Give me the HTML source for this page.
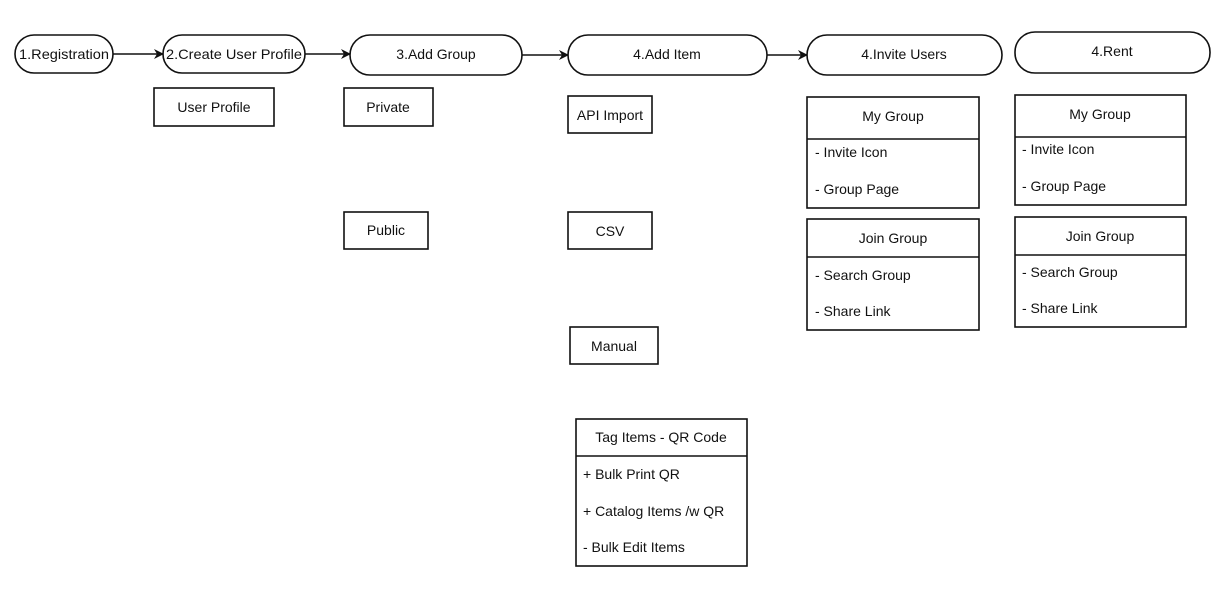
<!DOCTYPE html>
<html><head><meta charset="utf-8"><style>
html,body{margin:0;padding:0;background:#fff;width:1227px;height:597px;overflow:hidden}
svg{display:block}
text{font-family:"Liberation Sans",Arial,sans-serif;font-size:14px;fill:#111}
.r{fill:#fff;stroke:#111;stroke-width:1.6}
.l{stroke:#111;stroke-width:1.6;fill:none}
</style></head><body>
<svg width="1227" height="597" viewBox="0 0 1227 597">
<defs><marker id="a" markerWidth="10" markerHeight="10" refX="9" refY="5" orient="auto" markerUnits="userSpaceOnUse"><path d="M0,0 L10,5 L0,10 L3,5 z" fill="#111"/></marker></defs>
<!-- pills -->
<rect class="r" x="15" y="35" width="98" height="38" rx="19"/>
<text x="64" y="59" text-anchor="middle" textLength="90" lengthAdjust="spacingAndGlyphs">1.Registration</text>
<rect class="r" x="163" y="35" width="142" height="38" rx="19"/>
<text x="234" y="59" text-anchor="middle" textLength="136" lengthAdjust="spacingAndGlyphs">2.Create User Profile</text>
<rect class="r" x="350" y="35" width="172" height="40" rx="20"/>
<text x="436" y="59" text-anchor="middle">3.Add Group</text>
<rect class="r" x="568" y="35" width="199" height="40" rx="20"/>
<text x="667" y="59" text-anchor="middle">4.Add Item</text>
<rect class="r" x="807" y="35" width="195" height="40" rx="20"/>
<text x="904" y="59" text-anchor="middle">4.Invite Users</text>
<rect class="r" x="1015" y="32" width="195" height="41" rx="20"/>
<text x="1112" y="56" text-anchor="middle">4.Rent</text>
<!-- arrows -->
<line class="l" x1="113" y1="54" x2="163" y2="54" marker-end="url(#a)"/>
<line class="l" x1="305" y1="54" x2="350" y2="54" marker-end="url(#a)"/>
<line class="l" x1="522" y1="55" x2="568" y2="55" marker-end="url(#a)"/>
<line class="l" x1="767" y1="55" x2="807" y2="55" marker-end="url(#a)"/>
<!-- simple boxes -->
<rect class="r" x="154" y="88" width="120" height="38"/><text x="214" y="112" text-anchor="middle">User Profile</text>
<rect class="r" x="344" y="88" width="89" height="38"/><text x="388" y="112" text-anchor="middle">Private</text>
<rect class="r" x="344" y="212" width="84" height="37"/><text x="386" y="235" text-anchor="middle">Public</text>
<rect class="r" x="568" y="96" width="84" height="37"/><text x="610" y="120" text-anchor="middle">API Import</text>
<rect class="r" x="568" y="212" width="84" height="37"/><text x="610" y="236" text-anchor="middle">CSV</text>
<rect class="r" x="570" y="327" width="88" height="37"/><text x="614" y="351" text-anchor="middle">Manual</text>
<!-- tag items -->
<rect class="r" x="576" y="419" width="171" height="147"/><line class="l" x1="576" y1="456" x2="747" y2="456"/>
<text x="661" y="442" text-anchor="middle">Tag Items - QR Code</text>
<text x="583" y="479">+ Bulk Print QR</text>
<text x="583" y="516">+ Catalog Items /w QR</text>
<text x="583" y="552">- Bulk Edit Items</text>
<!-- invite groups -->
<rect class="r" x="807" y="97" width="172" height="111"/><line class="l" x1="807" y1="139" x2="979" y2="139"/>
<text x="893" y="121" text-anchor="middle">My Group</text>
<text x="815" y="157">- Invite Icon</text><text x="815" y="194">- Group Page</text>
<rect class="r" x="807" y="219" width="172" height="111"/><line class="l" x1="807" y1="257" x2="979" y2="257"/>
<text x="893" y="243" text-anchor="middle">Join Group</text>
<text x="815" y="280">- Search Group</text><text x="815" y="316">- Share Link</text>
<!-- rent groups -->
<rect class="r" x="1015" y="95" width="171" height="110"/><line class="l" x1="1015" y1="137" x2="1186" y2="137"/>
<text x="1100" y="119" text-anchor="middle">My Group</text>
<text x="1022" y="154">- Invite Icon</text><text x="1022" y="191">- Group Page</text>
<rect class="r" x="1015" y="217" width="171" height="110"/><line class="l" x1="1015" y1="255" x2="1186" y2="255"/>
<text x="1100" y="241" text-anchor="middle">Join Group</text>
<text x="1022" y="277">- Search Group</text><text x="1022" y="313">- Share Link</text>
</svg>
</body></html>
